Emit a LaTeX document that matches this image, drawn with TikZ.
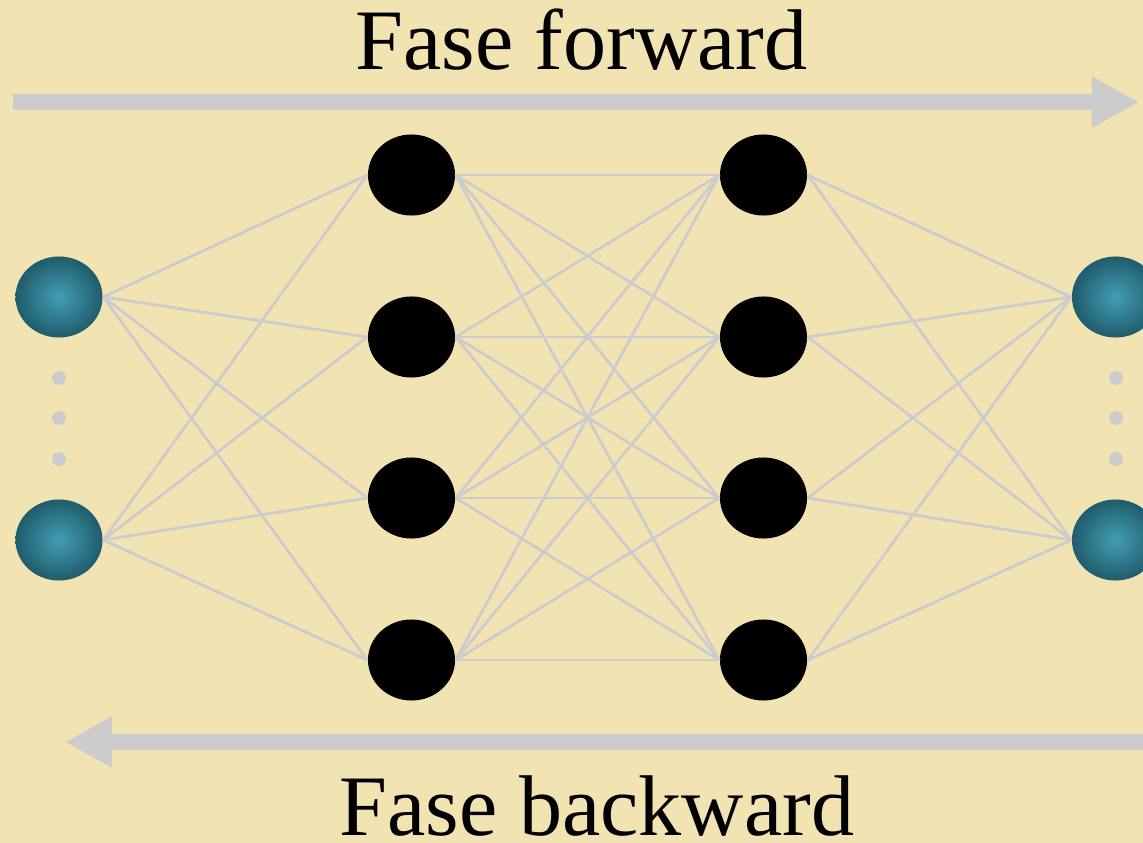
\documentclass[tikz,border=0pt]{standalone}
\usepackage{fontspec}
\setmainfont{Liberation Serif}
\usetikzlibrary{shapes.geometric,arrows.meta}
\definecolor{bgcol}{RGB}{242,228,178}
\definecolor{linkcol}{RGB}{204,204,204}
\definecolor{tealin}{RGB}{66,158,178}
\definecolor{tealout}{RGB}{32,92,108}
\tikzset{
  neuron/.style={ellipse,minimum width=0.87cm,minimum height=0.81cm,inner sep=0pt},
  hidden/.style={neuron,fill=black},
  io/.style={neuron,shading=radial,inner color=tealin,outer color=tealout},
  vdot/.style={circle,fill=linkcol,minimum size=0.14cm,inner sep=0pt},
  link/.style={draw=linkcol,line width=0.8pt},
  bigarrow/.style={draw=linkcol,line width=0.16cm,-{Triangle[length=0.47cm,width=0.48cm]}},
  title/.style={font=\fontsize{24.5pt}{28pt}\selectfont,anchor=base,inner sep=0pt}
}
\begin{document}
\begin{tikzpicture}[x=0.01cm,y=-0.01cm]
\fill[bgcol] (0,0) rectangle (1143,843);
\useasboundingbox (0,0) rectangle (1143,843);
% nodes
\node[io] (i1) at (59,297) {};
\node[io] (i2) at (59,540) {};
\node[io] (o1) at (1115.5,297) {};
\node[io] (o2) at (1115.5,540) {};
\foreach \k/\y in {1/175,2/337,3/498,4/660}{
  \node[hidden] (a\k) at (411.5,\y) {};
  \node[hidden] (b\k) at (763.5,\y) {};
}
\foreach \k/\y in {1/378,2/418,3/459}{
  \node[vdot] (ld\k) at (59,\y) {};
  \node[vdot] (rd\k) at (1116,\y) {};
}
% links
\foreach \i in {1,2}{
  \foreach \k in {1,2,3,4}{
    \draw[link] (i\i.east) -- (a\k.west);
    \draw[link] (b\k.east) -- (o\i.west);
  }
}
\foreach \k in {1,2,3,4}{
  \foreach \m in {1,2,3,4}{
    \draw[link] (a\k.east) -- (b\m.west);
  }
}
% arrows
\coordinate (fs) at (13,102);
\coordinate (fe) at (1139,102);
\coordinate (bs) at (1143,742);
\coordinate (be) at (65,742);
\draw[bigarrow] (fs) -- (fe);
\draw[bigarrow] (bs) -- (be);
% titles
\node[title] (tf) at (581.5,70) {Fase forward};
\node[title] (tb) at (597,835) {Fase backward};
\end{tikzpicture}
\end{document}
